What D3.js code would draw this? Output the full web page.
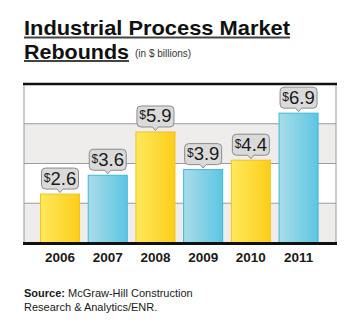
<!DOCTYPE html>
<html>
<head>
<meta charset="utf-8">
<script src="https://cdn.jsdelivr.net/npm/d3@7"></script>
<style>
  body { margin: 0; background: #fff; }
  svg { display: block; font-family: "Liberation Sans", Arial, sans-serif; }
</style>
</head>
<body>
<svg width="360" height="333"></svg>
<script>
const years = ['2006', '2007', '2008', '2009', '2010', '2011'],
      values = [2.6, 3.6, 5.9, 3.9, 4.4, 6.9],
      barColors = ['yellow', 'blue', 'yellow', 'blue', 'yellow', 'blue'],
      bands = [0, 1, 2, 3];

const plotLeft = 24,
      plotRight = 336,
      plotTop = 84,
      plotBottom = 243,
      svg = d3.select('svg'),
      defs = svg.append('defs');

const xScale = d3.scaleBand()
                 .domain(years)
                 .range([36.2, 322.4])
                 .paddingInner(0.161)
                 .paddingOuter(0.08),
      yScale = d3.scaleLinear()
                 .domain([0, 8.45])
                 .range([plotBottom, plotTop]),
      gridScale = d3.scaleLinear()
                    .domain([0, 4])
                    .range([plotBottom, plotTop]);

// gradients for the bars
const grads = {
  yellow: { a: '#ffe95c', b: '#fccd1a', stroke: '#f4c21c' },
  blue: { a: '#a9dcea', b: '#5cc6e3', stroke: '#3db7dc' }
};
Object.keys(grads).forEach((k) => {
  const g = defs.append('linearGradient')
      .attr('id', 'g-' + k)
      .attr('x1', 0).attr('x2', 1).attr('y1', 0).attr('y2', 0);
  g.append('stop').attr('offset', '0%').attr('stop-color', grads[k].a);
  g.append('stop').attr('offset', '100%').attr('stop-color', grads[k].b);
});

// alternating bands
svg.append('g')
  .selectAll('rect')
  .data(bands)
  .enter()
  .append('rect')
    .attr('x', plotLeft)
    .attr('width', plotRight - plotLeft)
    .attr('y', (d) => gridScale(d + 1))
    .attr('height', (d) => gridScale(d) - gridScale(d + 1))
    .attr('fill', (d) => d % 2 === 0 ? '#efedeb' : '#ffffff');

// gridlines
svg.append('g')
  .selectAll('line')
  .data([1, 2, 3])
  .enter()
  .append('line')
    .attr('x1', plotLeft)
    .attr('x2', plotRight)
    .attr('y1', (d) => gridScale(d))
    .attr('y2', (d) => gridScale(d))
    .attr('stroke', '#9a9a9a')
    .attr('stroke-width', 1);

// side frame lines
svg.append('g')
  .selectAll('line')
  .data([plotLeft, plotRight])
  .enter()
  .append('line')
    .attr('x1', (d) => d)
    .attr('x2', (d) => d)
    .attr('y1', plotTop)
    .attr('y2', plotBottom)
    .attr('stroke', '#9a9a9a')
    .attr('stroke-width', 1);

// bars
svg.append('g')
  .selectAll('rect')
  .data(years)
  .enter()
  .append('rect')
    .attr('x', (d) => xScale(d) + 0.5)
    .attr('y', (d, i) => yScale(values[i]))
    .attr('width', xScale.bandwidth() - 1)
    .attr('height', (d, i) => plotBottom - yScale(values[i]))
    .attr('fill', (d, i) => `url(#g-${barColors[i]})`)
    .attr('stroke', (d, i) => grads[barColors[i]].stroke)
    .attr('stroke-width', 1);

// top and bottom thick frame
svg.append('line')
    .attr('x1', plotLeft - 1).attr('x2', plotRight + 1)
    .attr('y1', plotTop).attr('y2', plotTop)
    .attr('stroke', '#111').attr('stroke-width', 2.5);
svg.append('line')
    .attr('x1', plotLeft - 1).attr('x2', plotRight + 1)
    .attr('y1', plotBottom + 0.5).attr('y2', plotBottom + 0.5)
    .attr('stroke', '#111').attr('stroke-width', 3);

// value callouts
const boxW = 37, boxH = 21, gap = 5;
const callouts = svg.append('g')
  .selectAll('g')
  .data(years)
  .enter()
  .append('g')
    .attr('transform', (d, i) =>
      `translate(${xScale(d) + xScale.bandwidth() / 2}, ${yScale(values[i]) - gap})`);

callouts.append('path')
    .attr('d', () => {
      const w = boxW / 2, h = boxH, r = 4;
      return `M${-w + r},${-h} H${w - r} Q${w},${-h} ${w},${-h + r} V${-r} Q${w},0 ${w - r},0 ` +
             `H3 L0,3.5 L-3,0 H${-w + r} Q${-w},0 ${-w},${-r} V${-h + r} Q${-w},${-h} ${-w + r},${-h} Z`;
    })
    .attr('fill', '#dadada')
    .attr('stroke', '#8c8c8c')
    .attr('stroke-width', 1);

const lbl = callouts.append('text')
    .attr('y', -4.5)
    .attr('text-anchor', 'middle')
    .attr('fill', '#1a1a1a');
lbl.append('tspan')
    .text('$')
    .attr('font-size', 12)
    .attr('dy', -3);
lbl.append('tspan')
    .text((d, i) => values[i].toFixed(1))
    .attr('font-size', 18.5)
    .attr('dy', 3);

// year labels
svg.append('g')
  .selectAll('text')
  .data(years)
  .enter()
  .append('text')
    .text((d) => d)
    .attr('x', (d) => xScale(d) + xScale.bandwidth() / 2)
    .attr('y', 262)
    .attr('text-anchor', 'middle')
    .attr('font-size', 13.5)
    .attr('font-weight', 'bold')
    .attr('fill', '#1a1a1a');

// title
const titleLines = ['Industrial Process Market', 'Rebounds'],
      titleWidths = [266, 105];
svg.append('g')
  .selectAll('text')
  .data(titleLines)
  .enter()
  .append('text')
    .text((d) => d)
    .attr('x', plotLeft)
    .attr('y', (d, i) => 35 + i * 23.5)
    .attr('font-size', 20.5)
    .attr('font-weight', 'bold')
    .attr('fill', '#111')
    .attr('textLength', (d, i) => titleWidths[i])
    .attr('lengthAdjust', 'spacingAndGlyphs')
    .each(function (d, i) {
      svg.append('rect')
          .attr('x', plotLeft)
          .attr('y', 36.5 + i * 23.5)
          .attr('width', titleWidths[i])
          .attr('height', 2)
          .attr('fill', '#444');
    });

svg.append('text')
    .text('(in $ billions)')
    .attr('x', 135)
    .attr('y', 57)
    .attr('font-size', 10)
    .attr('fill', '#333');

// source note
const src = svg.append('text')
    .attr('x', plotLeft)
    .attr('y', 297)
    .attr('font-size', 11)
    .attr('fill', '#1a1a1a');
src.append('tspan').text('Source: ').attr('font-weight', 'bold');
src.append('tspan').text('McGraw-Hill Construction');
svg.append('text')
    .text('Research & Analytics/ENR.')
    .attr('x', plotLeft)
    .attr('y', 311)
    .attr('font-size', 11)
    .attr('fill', '#1a1a1a');
</script>
</body>
</html>
